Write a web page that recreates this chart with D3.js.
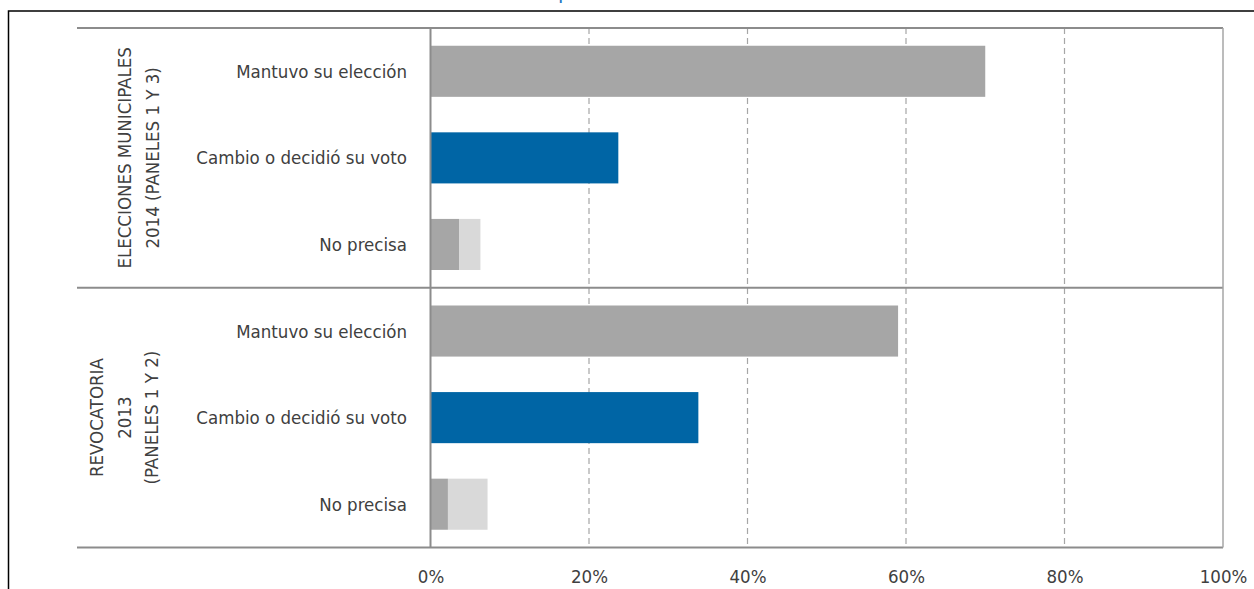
<!DOCTYPE html>
<html><head><meta charset="utf-8">
<script src="https://cdn.jsdelivr.net/npm/d3@7/dist/d3.min.js"></script>
<style>
html,body{margin:0;padding:0;background:#fff;overflow:hidden}
text{font-family:"Liberation Sans Narrow","DejaVu Sans Condensed","Roboto",sans-serif;fill:#404040}
</style></head><body>
<svg id="c" width="1254" height="589"></svg>
<script>
const groups = [
  {name: ["ELECCIONES MUNICIPALES", "2014 (PANELES 1 Y 3)"]},
  {name: ["REVOCATORIA", "2013", "(PANELES 1 Y 2)"]}
];
const categories = ["Mantuvo su elección", "Cambio o decidió su voto", "No precisa"];
const mainValues = [[70.0, 23.7, 3.6], [59.0, 33.8, 2.2]];
const extraValues = [[0, 0, 2.7], [0, 0, 5.0]];
const xTicks = [0, 20, 40, 60, 80, 100];
const tickLabels = ["0%", "20%", "40%", "60%", "80%", "100%"];

(function(){
const svg = d3.select("#c");
const pLeft = 430.5, pRight = 1223, pTop = 28, pBottom = 547.5, outerLeft = 77;
const x = d3.scaleLinear().domain([0, 100]).range([pLeft, pRight]);
const gy = d3.scaleBand().domain(d3.range(groups.length)).range([pTop, pBottom]);

svg.append("rect").attr("x", 8.5).attr("y", 11).attr("width", 1300).attr("height", 700)
  .attr("fill", "none").attr("stroke", "#000").attr("stroke-width", 1.5);

svg.append("text").attr("x", 558).attr("y", -1).attr("font-size", 22)
  .style("fill", "#1f77c4").text("p");

svg.append("g").selectAll("line").data(xTicks.filter(d => d > 0 && d < 100)).join("line")
  .attr("x1", d => x(d)).attr("x2", d => x(d)).attr("y1", pTop).attr("y2", pBottom)
  .attr("stroke", "#a6a6a6").attr("stroke-width", 1.2).attr("stroke-dasharray", "6,4");

groups.forEach((g, gi) => {
  const y = d3.scaleBand().domain(categories).range([gy(gi), gy(gi) + gy.bandwidth()]).paddingInner(0.41).paddingOuter(0.205);
  const gg = svg.append("g");
  const colors = ["#a6a6a6", "#0065a5", "#a6a6a6"];
  gg.selectAll("rect.main").data(categories).join("rect").attr("class", "main")
    .attr("x", x(0)).attr("y", d => y(d))
    .attr("width", (d, i) => x(mainValues[gi][i]) - x(0)).attr("height", y.bandwidth())
    .attr("fill", (d, i) => colors[i]);
  gg.selectAll("rect.extra").data(categories).join("rect").attr("class", "extra")
    .attr("x", (d, i) => x(mainValues[gi][i])).attr("y", d => y(d))
    .attr("width", (d, i) => x(mainValues[gi][i] + extraValues[gi][i]) - x(mainValues[gi][i])).attr("height", y.bandwidth())
    .attr("fill", "#d9d9d9");
  gg.selectAll("text.cat").data(categories).join("text").attr("class", "cat")
    .attr("x", 407).attr("y", d => y(d) + y.bandwidth() / 2).attr("dy", "0.35em")
    .attr("text-anchor", "end").attr("font-size", 18.5).text(d => d);
  const cy = gy(gi) + gy.bandwidth() / 2;
  const n = g.name.length;
  const baseX = n === 2 ? 125 : 97;
  g.name.forEach((line, li) => {
    svg.append("text").attr("transform", `translate(${baseX + li * 27.5},${cy}) rotate(-90)`)
      .attr("text-anchor", "middle").attr("dy", "0.35em").attr("font-size", 18.5).text(line);
  });
});

const lineColor = "#8c8c8c";
[pTop, gy(1), pBottom].forEach(yv => {
  svg.append("line").attr("x1", outerLeft).attr("x2", pRight).attr("y1", yv).attr("y2", yv)
    .attr("stroke", lineColor).attr("stroke-width", 2);
});
svg.append("line").attr("x1", pLeft).attr("x2", pLeft).attr("y1", pTop).attr("y2", pBottom)
  .attr("stroke", lineColor).attr("stroke-width", 2);
svg.append("line").attr("x1", pRight).attr("x2", pRight).attr("y1", pTop).attr("y2", pBottom)
  .attr("stroke", "#a6a6a6").attr("stroke-width", 1.5);

const ax = svg.append("g").attr("transform", `translate(0,${pBottom})`)
  .call(d3.axisBottom(x).tickValues(xTicks).tickFormat((d, i) => tickLabels[i]).tickSize(0).tickPadding(22));
ax.select(".domain").remove();
ax.attr("font-family", null).attr("font-size", null);
ax.selectAll("text").attr("font-size", 18.5).attr("fill", null);
})();
</script></body></html>
